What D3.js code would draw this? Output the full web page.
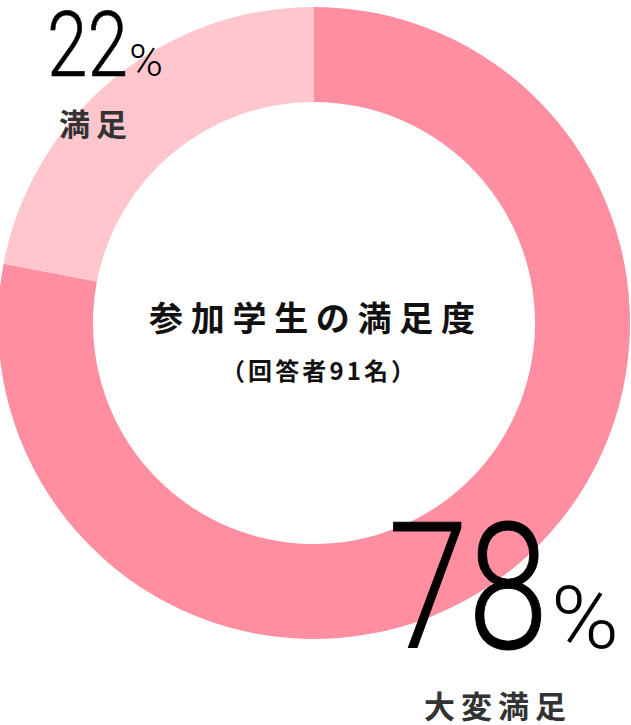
<!DOCTYPE html>
<html>
<head>
<meta charset="utf-8">
<script src="https://cdn.jsdelivr.net/npm/d3@7"></script>
<style>
  html, body { margin: 0; padding: 0; background: #fff; }
  svg { display: block; }
</style>
</head>
<body>
<div id="chart"></div>
<script>
// data
var categories = ["大変満足", "満足"];
var values = [78, 22];
var sliceColors = ["#ff8fa0", "#ffc6ce"];
var title = "参加学生の満足度";
var subtitle = "（回答者91名）";

var width = 631, height = 725;
var cx = 314, cy = 323;
var outerR = 316, innerR = 221;

var svg = d3.select("#chart")
  .append("svg")
  .attr("width", width)
  .attr("height", height);

var pie = d3.pie().sort(null).value(d => d);
var arc = d3.arc().innerRadius(innerR).outerRadius(outerR);

var g = svg.append("g").attr("transform", `translate(${cx},${cy})`);

g.selectAll("path")
  .data(pie(values))
  .join("path")
  .attr("d", arc)
  .attr("fill", (d, i) => sliceColors[i]);

// big percentage numbers (light, narrow)
var numFont = "Roboto, 'Liberation Sans', sans-serif";
var bigLabels = [
  // index into values, number x / width / size, percent x / width / size, baseline
  {i: 1, nx: 47, nw: 81, ns: 90, px: 129, pw: 34, ps: 44, y: 76, sw: 0.6},
  {i: 0, nx: 388, nw: 160, ns: 176, px: 551, pw: 68, ps: 88, y: 648, sw: 1}
];

bigLabels.forEach(function(b) {
  svg.append("text")
    .attr("x", b.nx)
    .attr("y", b.y)
    .attr("font-family", numFont)
    .attr("font-weight", 300)
    .attr("font-size", b.ns)
    .attr("fill", "#000")
    .attr("stroke", "#000")
    .attr("stroke-width", b.sw)
    .attr("textLength", b.nw)
    .attr("lengthAdjust", "spacingAndGlyphs")
    .text(values[b.i]);
  svg.append("text")
    .attr("x", b.px)
    .attr("y", b.y)
    .attr("font-family", numFont)
    .attr("font-weight", 300)
    .attr("font-size", b.ps)
    .attr("fill", "#000")
    .attr("textLength", b.pw)
    .attr("lengthAdjust", "spacingAndGlyphs")
    .text("%");
});

// category labels
var cjk = "'Noto Sans CJK JP', 'Noto Sans JP', sans-serif";
var catLabels = [
  {i: 1, x: 59, y: 136},
  {i: 0, x: 424, y: 718}
];
catLabels.forEach(function(c) {
  svg.append("text")
    .attr("x", c.x)
    .attr("y", c.y)
    .attr("font-family", cjk)
    .attr("font-weight", 700)
    .attr("font-size", 31)
    .attr("letter-spacing", 6)
    .attr("fill", "#333")
    .text(categories[c.i]);
});

// centre title
svg.append("text")
  .attr("x", 149)
  .attr("y", 331)
  .attr("font-family", cjk)
  .attr("font-weight", 700)
  .attr("font-size", 34)
  .attr("textLength", 326)
  .attr("fill", "#111")
  .text(title);

svg.append("text")
  .attr("x", 221)
  .attr("y", 380)
  .attr("font-family", cjk)
  .attr("font-weight", 700)
  .attr("font-size", 24)
  .attr("textLength", 194)
  .attr("fill", "#111")
  .text(subtitle);
</script>
</body>
</html>
